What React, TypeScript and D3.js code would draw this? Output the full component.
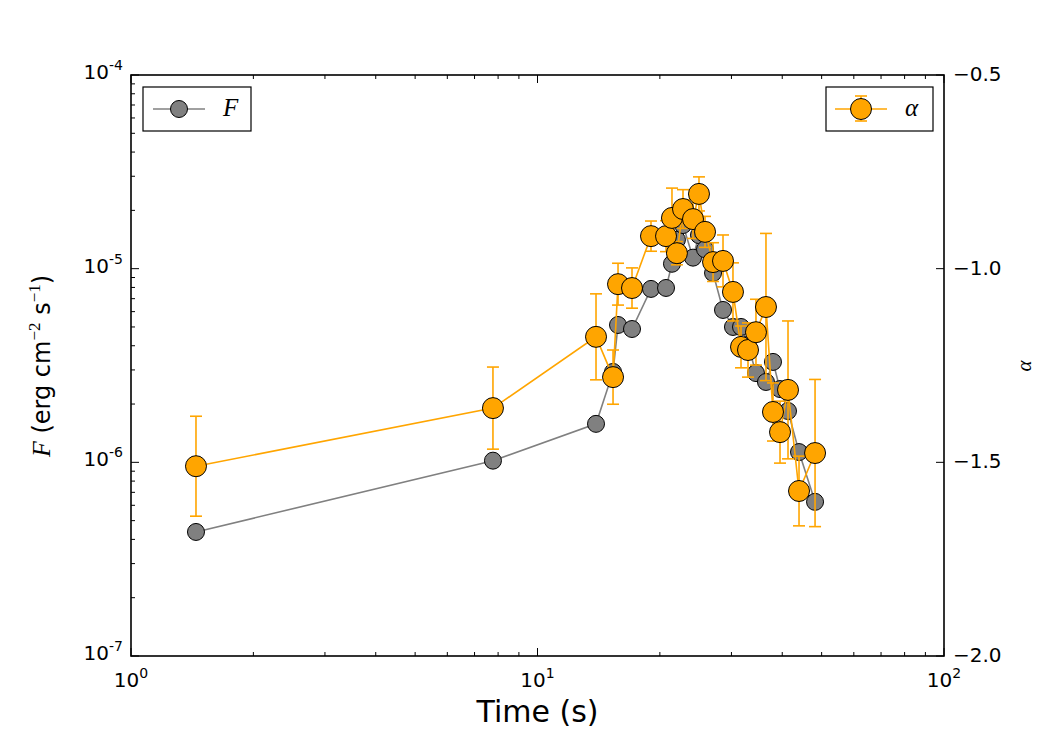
import React from "react";
import * as d3 from "d3";

// time bins (s)
const times = [1.445, 7.77, 13.93, 15.34, 15.78, 17.08, 19.02, 20.71, 21.42, 22.03, 22.8, 24.13, 24.96, 25.83, 27.03, 28.6, 30.26, 31.67, 32.95, 34.47, 36.48, 37.96, 39.5, 41.33, 43.99, 48.17];
// energy flux (erg cm^-2 s^-1)
const flux = [4.37e-7, 1.02e-6, 1.58e-6, 2.93e-6, 5.12e-6, 4.88e-6, 7.86e-6, 7.95e-6, 1.06e-5, 1.41e-5, 1.68e-5, 1.14e-5, 1.49e-5, 1.26e-5, 9.5e-6, 6.12e-6, 5.0e-6, 5.0e-6, 4.04e-6, 2.89e-6, 2.6e-6, 3.3e-6, 2.39e-6, 1.84e-6, 1.13e-6, 6.25e-7];
// photon index and its 1-sigma error
const alpha = [-1.51, -1.36, -1.176, -1.28, -1.04, -1.05, -0.916, -0.916, -0.869, -0.96, -0.846, -0.872, -0.807, -0.905, -0.983, -0.98, -1.06, -1.202, -1.21, -1.164, -1.099, -1.37, -1.422, -1.313, -1.574, -1.476];
const alphaErr = [0.129, 0.106, 0.111, 0.07, 0.054, 0.052, 0.039, 0.04, 0.077, 0.03, 0.05, 0.05, 0.044, 0.04, 0.05, 0.067, 0.075, 0.054, 0.07, 0.085, 0.19, 0.075, 0.08, 0.178, 0.09, 0.19];

const xTicks = [1, 10, 100];
const xTickExp = ["0", "1", "2"];
const fluxTicks = [1e-7, 1e-6, 1e-5, 1e-4];
const fluxTickExp = ["-7", "-6", "-5", "-4"];
const alphaTicks = [-2.0, -1.5, -1.0, -0.5];
const alphaTickLabels = ["\u22122.0", "\u22121.5", "\u22121.0", "\u22120.5"];

const W = 1050;
const H = 750;
const L = 131, R = 944, T = 75, B = 656;
const GRAY = "#808080";
const ORANGE = "#FFA500";
const SANS = "DejaVu Sans";
const SERIF = "Liberation Serif";

export default function App() {
    const x = d3.scaleLog().domain([1, 100]).range([L, R]);
    const yF = d3.scaleLog().domain([1e-7, 1e-4]).range([B, T]);
    const yA = d3.scaleLinear().domain([-2, -0.5]).range([B, T]);

    const fluxPath = d3.line<number>().x((d, i) => x(times[i])).y((d) => yF(d))(flux);
    const alphaPath = d3.line<number>().x((d, i) => x(times[i])).y((d) => yA(d))(alpha);

    const xMinor = x.ticks().filter((t) => !xTicks.includes(t));
    const yMinor = yF.ticks().filter((t) => !fluxTicks.some((f) => Math.abs(f - t) / f < 1e-6));

    return (
        <svg width={W} height={H} style={{ position: "absolute", left: 0, top: 0, background: "white" }}>
            {/* flux series (left axis) */}
            <path d={fluxPath} fill="none" stroke={GRAY} strokeWidth={1.6} />
            {flux.map((f, i) => (
                <circle key={"f" + i} cx={x(times[i])} cy={yF(f)} r={8.5} fill={GRAY} stroke="black" strokeWidth={1} />
            ))}

            {/* flux legend */}
            <rect x={143} y={87} width={108} height={44} fill="white" stroke="black" strokeWidth={1.2} />
            <line x1={153} x2={205} y1={109} y2={109} stroke={GRAY} strokeWidth={1.6} />
            <circle cx={179} cy={109} r={8.5} fill={GRAY} stroke="black" strokeWidth={1} />
            <text x={223} y={116} fontFamily={SERIF} fontStyle="italic" fontSize={25}>F</text>

            {/* alpha series (right axis) */}
            {alpha.map((a, i) => {
                const cx = x(times[i]);
                const y1 = yA(a + alphaErr[i]);
                const y2 = yA(a - alphaErr[i]);
                return (
                    <g key={"e" + i} stroke={ORANGE} strokeWidth={1.6}>
                        <line x1={cx} x2={cx} y1={y1} y2={y2} />
                        <line x1={cx - 6} x2={cx + 6} y1={y1} y2={y1} />
                        <line x1={cx - 6} x2={cx + 6} y1={y2} y2={y2} />
                    </g>
                );
            })}
            <path d={alphaPath} fill="none" stroke={ORANGE} strokeWidth={1.6} />
            {alpha.map((a, i) => (
                <circle key={"a" + i} cx={x(times[i])} cy={yA(a)} r={10.5} fill={ORANGE} stroke="black" strokeWidth={1} />
            ))}

            {/* alpha legend */}
            <rect x={826} y={87} width={107} height={44} fill="white" stroke="black" strokeWidth={1.2} />
            <g stroke={ORANGE} strokeWidth={1.6}>
                <line x1={835} x2={887} y1={109} y2={109} />
                <line x1={861} x2={861} y1={96} y2={121} />
                <line x1={855} x2={867} y1={96} y2={96} />
                <line x1={855} x2={867} y1={121} y2={121} />
            </g>
            <circle cx={861} cy={109} r={10.5} fill={ORANGE} stroke="black" strokeWidth={1} />
            <text x={905} y={116} fontFamily={SERIF} fontStyle="italic" fontSize={25}>α</text>

            {/* frame */}
            <rect x={L} y={T} width={R - L} height={B - T} fill="none" stroke="black" strokeWidth={1.6} />

            {/* x ticks, bottom and top */}
            <g stroke="black" strokeWidth={1}>
                {xTicks.map((t) => (
                    <g key={"xt" + t}>
                        <line x1={x(t)} x2={x(t)} y1={B} y2={B - 8} />
                        <line x1={x(t)} x2={x(t)} y1={T} y2={T + 8} />
                    </g>
                ))}
                {xMinor.map((t) => (
                    <g key={"xm" + t}>
                        <line x1={x(t)} x2={x(t)} y1={B} y2={B - 4} />
                        <line x1={x(t)} x2={x(t)} y1={T} y2={T + 4} />
                    </g>
                ))}
                {fluxTicks.map((t) => (
                    <line key={"yt" + t} x1={L} x2={L + 8} y1={yF(t)} y2={yF(t)} />
                ))}
                {yMinor.map((t) => (
                    <line key={"ym" + t} x1={L} x2={L + 4} y1={yF(t)} y2={yF(t)} />
                ))}
                {alphaTicks.map((t) => (
                    <line key={"at" + t} x1={R} x2={R - 8} y1={yA(t)} y2={yA(t)} />
                ))}
            </g>

            {/* tick labels */}
            <g fontFamily={SANS} fontSize={20} fill="black">
                {xTicks.map((t, i) => (
                    <text key={"xl" + t} x={x(t)} y={687} textAnchor="middle">
                        10<tspan fontSize={14} dy={-9}>{xTickExp[i]}</tspan>
                    </text>
                ))}
                {fluxTicks.map((t, i) => (
                    <text key={"yl" + t} x={123} y={yF(t) + 4} textAnchor="end">
                        10<tspan fontSize={14} dy={-9}>{fluxTickExp[i]}</tspan>
                    </text>
                ))}
                {alphaTicks.map((t, i) => (
                    <text key={"al" + t} x={953} y={yA(t) + 6}>{alphaTickLabels[i]}</text>
                ))}
            </g>

            {/* axis titles */}
            <text x={(L + R) / 2} y={722} textAnchor="middle" fontFamily={SANS} fontSize={30}>Time (s)</text>
            <text transform="translate(50,366) rotate(-90)" textAnchor="middle" fontFamily={SANS} fontSize={24}>
                <tspan fontFamily={SERIF} fontStyle="italic" fontSize={26}>F</tspan>
                {" (erg cm"}
                <tspan fontFamily={SERIF} fontSize={17} dy={-10}>−2</tspan>
                <tspan dy={10}>{" s"}</tspan>
                <tspan fontFamily={SERIF} fontSize={17} dy={-10}>−1</tspan>
                <tspan dy={10}>)</tspan>
            </text>
            <text transform="translate(1031,366) rotate(-90)" textAnchor="middle" fontFamily={SERIF} fontStyle="italic" fontSize={21}>α</text>
        </svg>
    );
}
